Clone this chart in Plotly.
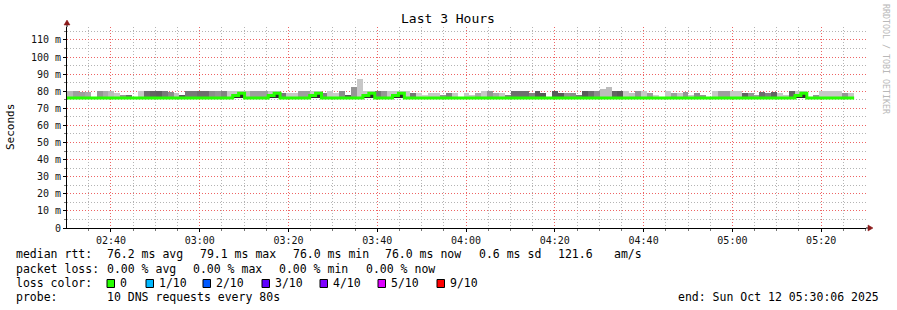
import plotly.graph_objects as go
from datetime import datetime, timedelta

# ---------------- data ----------------
START = datetime(2025, 10, 12, 2, 30, 6)
END = datetime(2025, 10, 12, 5, 30, 6)
STEP_S = 80

# top of the smoke (max ping, ms) per 80 s step; None = no smoke drawn
smoke_top = [
    80, 80, 79.4, 79.4, None, 80, 80, 80, 78.8, 77.6,
    78.0, None, 80, 80, 80, 80, 80, 79.4, 78.8, 78.0,
    80, 80, 80, 80, 80, 80, 80, 80, 80, 80,
    80, 80, 80, 80, 80, 80, 78.8, 78.8, 78.8, 80,
    80, 80, 80, 78.8, 80, 78.8, 80, 78.0, 82.6, 87.2,
    80, 80, 80, 80, 80, 80, 80, 80, 78.8, 78.8,
    77.6, 78.8, 78.8, 78.0, 78.8, 78.8, None, 78.8, 78.0, 78.8,
    80, 80, 78.8, 78.8, 78.0, 80, 80, 80, 78.8, 80,
    78.8, None, 80, 78.8, 78.8, 78.8, 77.6, 80, 80, 80,
    81.5, 82.7, 80, 80, 80, 78.8, 80, 80, 78.8, 78.0,
    None, 80, 78.8, 78.8, 79.4, 78.0, 78.8, 77.6, None, 80,
    80, 80, 80, 80, 78.8, 78.8, 77.6, 79.4, 78.8, 79.4,
    78.8, 78.0, 80, 80, 80, None, 77.6, 80, 80, 80,
    80, 78.8, 78.8,
]

# smoke density (0 = sparse/light, 1 = dense/dark) per step
smoke_density = [
    0.21, 0.42, 0.42, 0.33, 0.0, 0.5, 0.33, 0.17, 0.08, 0.5,
    0.83, 0.0, 0.08, 0.83, 0.92, 0.96, 0.75, 0.58, 0.13, 1.0,
    0.75, 0.75, 0.83, 0.83, 0.58, 0.5, 0.67, 0.08, 0.08, 0.08,
    0.17, 0.42, 0.42, 0.42, 0.08, 0.08, 0.75, 0.08, 0.08, 0.42,
    0.42, 0.08, 0.08, 0.67, 0.08, 0.04, 0.58, 1.0, 0.5, 0.08,
    0.08, 0.08, 0.75, 0.5, 0.08, 0.08, 0.08, 0.08, 0.75, 0.0,
    0.0, 0.08, 0.08, 0.5, 0.67, 0.08, 0.0, 0.08, 0.08, 0.33,
    0.08, 0.5, 0.33, 0.08, 0.67, 0.83, 0.83, 0.83, 0.67, 1.0,
    1.0, 0.0, 1.0, 1.0, 0.5, 0.58, 0.75, 1.0, 0.83, 0.58,
    0.17, 0.17, 0.92, 1.0, 0.08, 0.13, 0.5, 0.08, 0.42, 0.0,
    0.0, 0.08, 0.42, 0.08, 0.5, 0.08, 0.58, 0.5, 0.0, 0.08,
    0.42, 0.42, 0.08, 0.08, 0.92, 0.5, 0.42, 0.83, 0.67, 0.92,
    0.08, 0.08, 0.92, 0.08, 0.08, 0.0, 0.5, 0.08, 0.08, 0.08,
    0.08, 0.5, 0.08,
]

# median rtt (ms) per step
median_rtt = [
    76.0, 76.0, 76.0, 76.0, 76.0, 76.0, 76.0, 76.0, 76.0, 76.0,
    76.0, 76.0, 76.0, 76.0, 76.0, 76.0, 76.0, 76.0, 76.0, 76.0,
    76.0, 76.0, 76.0, 76.0, 76.0, 76.0, 76.0, 76.0, 77.5, 78.9,
    76.0, 76.0, 76.0, 76.0, 77.5, 78.9, 76.0, 76.0, 76.0, 76.0,
    76.0, 77.5, 78.9, 76.0, 76.0, 76.0, 76.0, 76.0, 76.0, 76.0,
    77.5, 78.9, 76.0, 76.0, 76.0, 77.5, 78.9, 76.0, 76.0, 76.0,
    76.0, 76.0, 76.0, 76.0, 76.0, 76.0, 76.0, 76.0, 76.0, 76.0,
    76.0, 76.0, 76.0, 76.0, 76.0, 76.0, 76.0, 76.0, 76.0, 76.0,
    76.0, 76.0, 76.0, 76.0, 76.0, 76.0, 76.0, 76.0, 76.0, 76.0,
    76.0, 76.0, 76.0, 76.0, 76.0, 76.0, 76.0, 76.0, 76.0, 76.0,
    76.0, 76.0, 76.0, 76.0, 76.0, 76.0, 76.0, 76.0, 76.0, 76.0,
    76.0, 76.0, 76.0, 76.0, 76.0, 76.0, 76.0, 76.0, 76.0, 76.0,
    76.0, 76.0, 76.0, 77.5, 78.9, 76.0, 76.0, 76.0, 76.0, 76.0,
    76.0, 76.0, 76.0,
]

y_tick_vals = [0, 10, 20, 30, 40, 50, 60, 70, 80, 90, 100, 110]
y_tick_text = ["0", "10 m", "20 m", "30 m", "40 m", "50 m", "60 m",
               "70 m", "80 m", "90 m", "100 m", "110 m"]
y_minor_vals = [5, 15, 25, 35, 45, 55, 65, 75, 85, 95, 105, 115]

loss_labels = ["0", "1/10", "2/10", "3/10", "4/10", "5/10", "9/10"]
loss_colors = ["#26ff00", "#00b8ff", "#0059ff", "#5e00ff", "#7e00ff", "#dd00ff", "#ff0000"]

title_text = "Last 3 Hours"
stats_rtt = ["median rtt:", "76.2 ms avg", "79.1 ms max", "76.0 ms min",
             "76.0 ms now", "0.6 ms sd", "121.6", "am/s"]
stats_loss = ["packet loss:", "0.00 % avg", "0.00 % max", "0.00 % min", "0.00 % now"]
probe_text = ["probe:", "10 DNS requests every 80s"]
end_text = "end: Sun Oct 12 05:30:06 2025"

# ---------------- geometry helpers ----------------
W, H = 897, 310
PL, PR, PT, PB = 67, 866, 27, 228
MONO = "DejaVu Sans Mono"


def px(x):
    return (x - PL) / (PR - PL)


def py(y):
    return (PB - y) / (PB - PT)


n = len(smoke_top)
starts = [START + timedelta(seconds=STEP_S * i) for i in range(n)]
centers = [s + timedelta(seconds=STEP_S / 2) for s in starts]

# minor x grid every 5 min, skipping the 20-min major positions
x_minor = []
t = datetime(2025, 10, 12, 2, 35, 0)
while t < END:
    if t.minute % 20 != 0:
        x_minor.append(t)
    t += timedelta(minutes=5)

base_val = 76.0
heights = [(v - base_val) if v is not None else 0 for v in smoke_top]
colors = []
for d in smoke_density:
    g = int(round(208 - 118 * d))
    colors.append(f"rgb({g},{g},{g})")

core_h = [(m - base_val) if m > base_val + 0.4 else 0 for m in median_rtt]

fig = go.Figure()
fig.add_trace(go.Bar(x=centers, y=heights, base=base_val, width=STEP_S * 1000,
                     marker=dict(color=colors, line=dict(width=0)), hoverinfo="skip"))
fig.add_trace(go.Bar(x=centers, y=core_h, base=base_val, width=STEP_S * 1000,
                     marker=dict(color="#2b2b2b", line=dict(width=0)), hoverinfo="skip"))
fig.add_trace(go.Scatter(x=starts + [starts[-1] + timedelta(seconds=STEP_S)],
                         y=median_rtt + [median_rtt[-1]], mode="lines",
                         line=dict(color="#26ff00", width=3, shape="hv"), hoverinfo="skip"))

red_grid = "#ee6464"
gray_grid = "#b4b4b4"
GDASH = "1px,2px"

fig.update_layout(
    width=W, height=H,
    margin=dict(l=PL, r=W - PR, t=PT, b=H - PB, pad=0),
    plot_bgcolor="white", paper_bgcolor="white",
    showlegend=False, barmode="overlay", bargap=0,
    font=dict(family=MONO, size=10, color="#000"),
    xaxis=dict(
        type="date", range=[START, END], tickformat="%H:%M",
        tick0="2025-10-12 02:40:00", dtick=1200000,
        showgrid=True, gridcolor=red_grid, griddash=GDASH, gridwidth=1,
        ticks="outside", ticklen=3, tickcolor="#000",
        showline=True, linecolor="#000", linewidth=1, zeroline=False,
        tickfont=dict(family=MONO, size=10, color="#111"),
        minor=dict(tickmode="array", tickvals=x_minor, showgrid=True,
                   gridcolor=gray_grid, griddash=GDASH, gridwidth=1,
                   ticks="outside", ticklen=2, tickcolor="#777"),
        layer="below traces",
    ),
    yaxis=dict(
        range=[0, 117.6], tickmode="array", tickvals=y_tick_vals, ticktext=y_tick_text,
        showgrid=True, gridcolor=red_grid, griddash=GDASH, gridwidth=1,
        ticks="outside", ticklen=3, tickcolor="#000",
        showline=True, linecolor="#000", linewidth=1, zeroline=False,
        tickfont=dict(family=MONO, size=10, color="#111"),
        minor=dict(tickmode="array", tickvals=y_minor_vals, showgrid=True,
                   gridcolor=gray_grid, griddash=GDASH, gridwidth=1,
                   ticks="outside", ticklen=2, tickcolor="#777"),
    ),
)

ann = []
ann.append(dict(text=title_text, x=px(448), y=py(19), xref="paper", yref="paper",
                showarrow=False, xanchor="center", yanchor="middle",
                font=dict(family=MONO, size=13, color="#000")))
ann.append(dict(text="Seconds", x=px(11), y=py(127), xref="paper", yref="paper",
                showarrow=False, xanchor="center", yanchor="middle", textangle=-90,
                font=dict(family=MONO, size=11, color="#000")))
ann.append(dict(text="RRDTOOL / TOBI OETIKER", x=px(886), y=py(59), xref="paper", yref="paper",
                showarrow=False, xanchor="center", yanchor="middle", textangle=90,
                font=dict(family=MONO, size=8.3, color="#b8b8b8")))

LEG = dict(family=MONO, size=11.5, color="#000")


def text_at(txt, x, y, anchor="left"):
    ann.append(dict(text=txt, x=px(x), y=py(y), xref="paper", yref="paper",
                    showarrow=False, xanchor=anchor, yanchor="middle", font=LEG))


rtt_x = [16, 107, 200, 293, 385, 479, 558, 614]
for txt, x in zip(stats_rtt, rtt_x):
    text_at(txt, x - 2, 254)
loss_x = [16, 107, 193, 279, 366]
for txt, x in zip(stats_loss, loss_x):
    text_at(txt, x - 2, 268.5)
text_at("loss color:", 14, 283)
box_x = [107, 146, 203, 262, 320, 378, 437]
shapes = []
for lab, col, bx in zip(loss_labels, loss_colors, box_x):
    shapes.append(dict(type="rect", xref="paper", yref="paper",
                       x0=px(bx), x1=px(bx + 7.5), y0=py(287.5), y1=py(279.5),
                       fillcolor=col, line=dict(color="#000", width=1)))
    text_at(lab, bx + 11, 283)
text_at(probe_text[0], 14, 297)
text_at(probe_text[1], 105, 297)
text_at(end_text, 676, 297)

arrow_col = "#8b1a1a"
shapes.append(dict(type="line", xref="paper", yref="paper", xsizemode="pixel", ysizemode="pixel",
                   xanchor=0, yanchor=1, x0=0, x1=0, y0=0, y1=4,
                   line=dict(color="#000", width=1)))
shapes.append(dict(type="path", xref="paper", yref="paper", xsizemode="pixel", ysizemode="pixel",
                   xanchor=0, yanchor=1, path="M -3,2 L 3,2 L 0,7 Z",
                   fillcolor=arrow_col, line=dict(color=arrow_col, width=0.5)))
shapes.append(dict(type="line", xref="paper", yref="paper", xsizemode="pixel", ysizemode="pixel",
                   xanchor=1, yanchor=0, x0=0, x1=3, y0=0, y1=0,
                   line=dict(color="#000", width=1)))
shapes.append(dict(type="path", xref="paper", yref="paper", xsizemode="pixel", ysizemode="pixel",
                   xanchor=1, yanchor=0, path="M 2,-3 L 2,3 L 7,0 Z",
                   fillcolor=arrow_col, line=dict(color=arrow_col, width=0.5)))

fig.update_layout(annotations=ann, shapes=shapes)
fig.write_html("out.html")
